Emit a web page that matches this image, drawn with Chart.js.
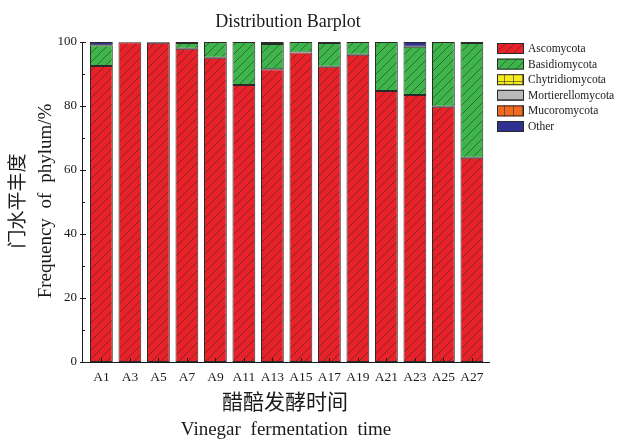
<!DOCTYPE html>
<html>
<head>
<meta charset="utf-8">
<script src="https://cdn.jsdelivr.net/npm/chart.js@4/dist/chart.umd.min.js"></script>
<style>
  html, body { margin: 0; padding: 0; background: #fff; }
  #wrap { width: 620px; height: 439px; position: relative; }
</style>
</head>
<body>
<div id="wrap"><canvas id="c" width="620" height="439"></canvas></div>
<script>
// Samples along the vinegar fermentation
const samples = ['A1','A3','A5','A7','A9','A11','A13','A15','A17','A19','A21','A23','A25','A27'];

// Relative abundance (%) of each fungal phylum per sample
const ascomycota       = [92.5, 99.9, 99.8, 97.9, 95.1, 86.6, 91.5, 96.7, 92.3, 96.0, 84.7, 83.4, 79.8, 63.8];
const basidiomycota    = [ 6.5,  0.1,  0.2,  1.8,  4.9, 13.4,  7.9,  3.3,  7.4,  4.0, 15.3, 15.1, 20.2, 35.9];
const chytridiomycota  = [ 0,    0,    0,    0,    0,    0,    0,    0,    0,    0,    0,    0,    0,    0  ];
const mortierellomycota= [ 0,    0,    0,    0,    0,    0,    0,    0,    0,    0,    0,    0,    0,    0  ];
const mucoromycota     = [ 0,    0,    0,    0,    0,    0,    0,    0,    0,    0,    0,    0,    0,    0  ];
const other            = [ 1.0,  0,    0,    0.3,  0,    0,    0.6,  0,    0.3,  0,    0,    1.5,  0,    0.3];

const phyla = ['Ascomycota','Basidiomycota','Chytridiomycota','Mortierellomycota','Mucoromycota','Other'];
const yTicks = [0, 20, 40, 60, 80, 100];

const SERIF = '"Liberation Serif", "Times New Roman", "Noto Sans CJK SC", serif';
const INK = '#1a1a1a';

// Fill patterns for the stacked segments
function makePattern(base, kind) {
  const s = 9;
  const cv = document.createElement('canvas');
  cv.width = s; cv.height = s;
  const g = cv.getContext('2d');
  g.fillStyle = base;
  g.fillRect(0, 0, s, s);
  g.strokeStyle = 'rgba(40,40,40,0.6)';
  g.lineWidth = 0.9;
  g.beginPath();
  if (kind === 'diag') {
    g.moveTo(0, s); g.lineTo(s, 0);
    g.moveTo(-1, 1); g.lineTo(1, -1);
    g.moveTo(s - 1, s + 1); g.lineTo(s + 1, s - 1);
  } else if (kind === 'grid') {
    g.moveTo(0, 0.5); g.lineTo(s, 0.5);
    g.moveTo(0.5, 0); g.lineTo(0.5, s);
  } else if (kind === 'horiz') {
    g.moveTo(0, 0.5); g.lineTo(s, 0.5);
  } else if (kind === 'vert') {
    g.moveTo(0.5, 0); g.lineTo(0.5, s);
  }
  g.stroke();
  return g.createPattern(cv, 'repeat');
}

const ctx = document.getElementById('c').getContext('2d');
const fills = [
  makePattern('#e92128', 'diag'),
  makePattern('#3db54a', 'diag'),
  makePattern('#f4ea1c', 'grid'),
  makePattern('#b9b9b9', 'horiz'),
  makePattern('#f26a21', 'vert'),
  '#2e3192'
];
const seriesValues = [ascomycota, basidiomycota, chytridiomycota, mortierellomycota, mucoromycota, other];

const datasets = phyla.map((name, k) => ({
  label: name,
  data: seriesValues[k].map((v, i) => ({ x: i, y: v })),
  backgroundColor: fills[k],
  borderColor: '#2a2a2a',
  borderWidth: 1,
  borderSkipped: false,
  stack: 'phylum',
  barPercentage: 0.8,
  categoryPercentage: 1.0
}));

// Axis ticks, titles and legend drawn on the canvas
const decor = {
  id: 'decor',
  afterDraw(chart) {
    const c = chart.ctx;
    const xs = chart.scales.x, ys = chart.scales.y;
    const area = chart.chartArea;
    c.save();
    c.strokeStyle = INK;
    c.lineWidth = 1;
    // y ticks: majors cross the axis, minors point inward
    for (let v = 0; v <= 100; v += 10) {
      const py = Math.round(ys.getPixelForValue(v)) + 0.5;
      c.beginPath();
      if (v % 20 === 0) { c.moveTo(area.left - 2, py); c.lineTo(area.left + 4, py); }
      else { c.moveTo(area.left, py); c.lineTo(area.left + 3, py); }
      c.stroke();
    }
    // x ticks at each sample, pointing inward
    samples.forEach((_, i) => {
      const px = Math.round(xs.getPixelForValue(i)) + 0.5;
      c.beginPath();
      c.moveTo(px, area.bottom); c.lineTo(px, area.bottom - 4);
      c.stroke();
    });

    c.fillStyle = INK;
    c.textAlign = 'center';
    c.textBaseline = 'middle';
    // chart title
    c.font = '18px ' + SERIF;
    c.fillText('Distribution Barplot', 288, 22);
    // x-axis title
    c.font = '21px ' + SERIF;
    c.fillText('醋醅发酵时间', 285, 403);
    c.font = '19px ' + SERIF;
    c.wordSpacing = '5px';
    c.fillText('Vinegar fermentation time', 286, 430);
    // y-axis title
    c.save();
    c.translate(19, 201);
    c.rotate(-Math.PI / 2);
    c.wordSpacing = '0px';
    c.font = '19px ' + SERIF;
    c.fillText('门水平丰度', 0, 0);
    c.restore();
    c.save();
    c.translate(46, 201);
    c.rotate(-Math.PI / 2);
    c.wordSpacing = '5px';
    c.font = '19px ' + SERIF;
    c.fillText('Frequency of phylum/%', 0, 0);
    c.restore();
    c.wordSpacing = '0px';

    // legend
    c.textAlign = 'left';
    c.font = '11.5px ' + SERIF;
    phyla.forEach((name, k) => {
      const top = 43 + k * 15.6;
      c.fillStyle = fills[k];
      c.fillRect(497, top, 27, 11);
      c.strokeStyle = '#2a2a2a';
      c.strokeRect(497.5, top + 0.5, 26, 10);
      c.fillStyle = INK;
      c.fillText(name, 528, top + 6);
    });
    c.restore();
  }
};

new Chart(ctx, {
  type: 'bar',
  data: { datasets },
  options: {
    responsive: false,
    animation: false,
    layout: { padding: { top: 42, right: 131, left: 0, bottom: 0 } },
    plugins: { legend: { display: false }, title: { display: false }, tooltip: { enabled: false } },
    scales: {
      x: {
        type: 'linear',
        offset: false,
        min: -0.68,
        max: 13.6,
        stacked: true,
        afterFit(s) { s.height = 77; },
        afterBuildTicks(s) { s.ticks = samples.map((_, i) => ({ value: i })); },
        grid: { display: false, drawTicks: false },
        border: { display: true, color: INK, width: 1 },
        ticks: {
          callback: (v) => samples[v] ?? '',
          color: INK,
          font: { family: SERIF, size: 13.5 },
          padding: 7,
          maxRotation: 0,
          autoSkip: false
        }
      },
      y: {
        min: 0,
        max: 100,
        stacked: true,
        afterFit(s) { s.width = 82; },
        afterBuildTicks(s) { s.ticks = yTicks.map(v => ({ value: v })); },
        grid: { display: false, drawTicks: false },
        border: { display: true, color: INK, width: 1 },
        ticks: {
          color: INK,
          font: { family: SERIF, size: 13 },
          padding: 5
        }
      }
    }
  },
  plugins: [decor]
});
</script>
</body>
</html>
